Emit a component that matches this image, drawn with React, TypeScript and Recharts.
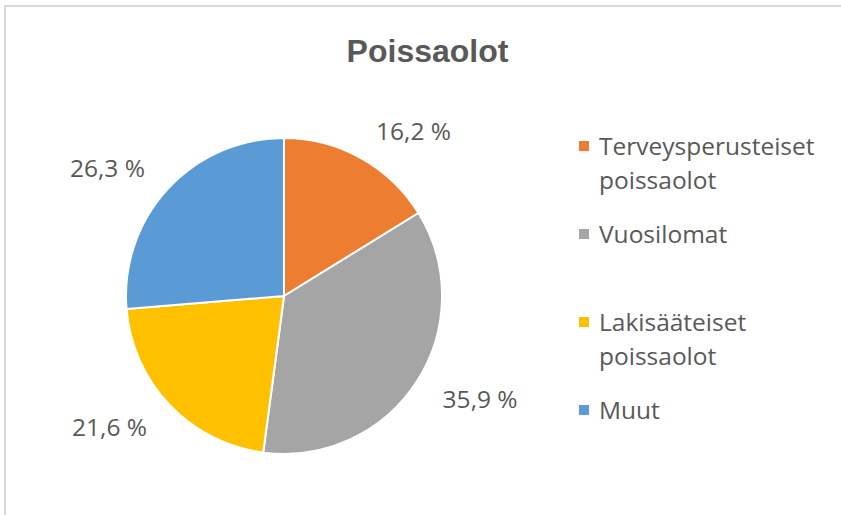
import React from "react";
import { PieChart, Pie, Cell, Legend } from "recharts";

// Poissaolot -- share of absences by type (%)
const categories = [
  "Terveysperusteiset poissaolot",
  "Vuosilomat",
  "Lakisääteiset poissaolot",
  "Muut",
];
const shares = [16.2, 35.9, 21.6, 26.3];
const colors = ["#ED7D31", "#A5A5A5", "#FFC000", "#5B9BD5"];

const data = categories.map((name, i) => ({ name, value: shares[i] }));

const TEXT = "#595959";
const FONT = "'Open Sans', sans-serif";
const RAD = Math.PI / 180;

// Excel-style outside labels: anchored at the slice's mid angle, text runs
// away from the pie.
function renderLabel(props: any) {
  const { cx, cy, midAngle, outerRadius, value } = props;
  const r = outerRadius + 31;
  const x = cx + r * Math.cos(-midAngle * RAD);
  const y = cy + r * Math.sin(-midAngle * RAD);
  return (
    <text
      x={x}
      y={y}
      fill={TEXT}
      textAnchor={x > cx ? "start" : "end"}
      dominantBaseline="central"
      fontSize={24.5}
      fontFamily={FONT}
    >
      {value.toFixed(1).replace(".", ",")} %
    </text>
  );
}

// Legend keeps the data order (recharts 3 re-sorts its payload)
function LegendList() {
  return (
    <div style={{ fontFamily: FONT, fontSize: 24.5, color: TEXT }}>
      {categories.map((name, i) => (
        <div
          key={name}
          style={{ display: "flex", alignItems: "flex-start", height: 88 }}
        >
          <span
            style={{
              width: 10,
              height: 10,
              marginTop: 12,
              marginRight: 10,
              background: colors[i],
              flex: "none",
            }}
          />
          <span style={{ lineHeight: "34px", width: 235 }}>{name}</span>
        </div>
      ))}
    </div>
  );
}

export default function App() {
  return (
    <div
      style={{
        position: "absolute",
        left: 0,
        top: 0,
        width: 841,
        height: 515,
        overflow: "hidden",
        background: "#fff",
      }}
    >
      <div
        style={{
          position: "absolute",
          left: 4,
          top: 5,
          width: 900,
          height: 600,
          border: "2px solid #d9d9d9",
        }}
      />
      <div
        style={{
          position: "absolute",
          left: 0,
          top: 33,
          width: 855,
          textAlign: "center",
          fontFamily: "'Liberation Sans', Arial, sans-serif",
          fontWeight: "bold",
          fontSize: 32,
          color: TEXT,
        }}
      >
        Poissaolot
      </div>
      <div style={{ position: "absolute", left: 0, top: 0 }}>
        <PieChart
          width={841}
          height={515}
          margin={{ top: 0, right: 0, bottom: 0, left: 0 }}
        >
          <Pie
            data={data}
            dataKey="value"
            nameKey="name"
            cx={284}
            cy={296}
            outerRadius={158}
            startAngle={90}
            endAngle={-270}
            stroke="#fff"
            strokeWidth={2}
            label={renderLabel}
            labelLine={false}
            isAnimationActive={false}
          >
            {data.map((d, i) => (
              <Cell key={d.name} fill={colors[i]} />
            ))}
          </Pie>
          <Legend
            layout="vertical"
            align="right"
            verticalAlign="top"
            content={<LegendList />}
            wrapperStyle={{ left: 579, top: 129, right: "auto", width: 260 }}
          />
        </PieChart>
      </div>
    </div>
  );
}
